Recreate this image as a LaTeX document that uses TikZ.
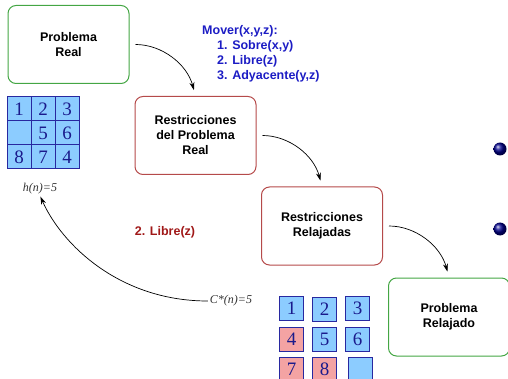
\documentclass[tikz,border=0pt]{standalone}
\usepackage{fontspec}
\setmainfont{Liberation Serif}
\setsansfont{Liberation Sans}
\usetikzlibrary{arrows.meta,shadings}
\definecolor{boxgreen}{HTML}{44A644}
\definecolor{boxred}{HTML}{B54A4A}
\definecolor{textblue}{HTML}{1C1CC4}
\definecolor{textred}{HTML}{A01818}
\definecolor{tileblue}{HTML}{8CCCFF}
\definecolor{tilered}{HTML}{F4A3A3}
\definecolor{tileline}{HTML}{2828A0}
\definecolor{digit}{HTML}{1A1A8C}
\begin{document}
\begin{tikzpicture}[x=1pt,y=-1pt,
  box/.style={draw, rounded corners=8pt, line width=1pt, minimum width=121pt,
    minimum height=78pt, align=center,
    font=\sffamily\bfseries\fontsize{12.5}{15}\selectfont},
  arr/.style={-{Stealth[length=8pt,width=5pt]}, line width=0.7pt,
    shorten <=6pt, shorten >=6pt},
  tile/.style={draw=tileline, line width=1pt, fill=tileblue, minimum size=24pt,
    inner sep=0pt, text=digit, font=\fontsize{19}{19}\selectfont},
  redtile/.style={tile, fill=tilered},
  ball/.style={circle, minimum size=13pt, inner sep=0pt, ball color=blue!55!black},
  val/.style={font=\itshape\fontsize{12}{14}\selectfont, text=black!80, inner sep=1pt}]
  \useasboundingbox (0,0) rectangle (508,379);

  \node[box, draw=boxgreen] (real) at (68.5,44.5) {Problema\\Real};
  \node[box, draw=boxred] (restr) at (195.5,135.5) {Restricciones\\del Problema\\Real};
  \node[box, draw=boxred] (relaj) at (322,226) {Restricciones\\Relajadas};
  \node[box, draw=boxgreen] (prelaj) at (449,317) {Problema\\Relajado};

  \draw[arr] (real.east) to[out=0, in=105] (restr.north);
  \draw[arr] (restr.east) to[out=0, in=105] (relaj.north);
  \draw[arr] (relaj.east) to[out=0, in=105] (prelaj.north);

  \node[anchor=north west, align=left, inner sep=0pt, text=textblue,
    font=\sffamily\bfseries\fontsize{12.5}{15}\selectfont] (mover) at (202,25)
    {Mover(x,y,z):\\
     \hspace*{15pt}1. Sobre(x,y)\\
     \hspace*{15pt}2. Libre(z)\\
     \hspace*{15pt}3. Adyacente(y,z)};

  \node[text=textred, font=\sffamily\bfseries\fontsize{12.5}{15}\selectfont] (libre) at (165,232) {2. Libre(z)};

  \node[ball] (b1) at (500,149) {};
  \node[ball] (b2) at (500,229) {};

  % estado inicial
  \node[tile] (s1) at (19,109) {1};
  \node[tile] (s2) at (43,109) {2};
  \node[tile] (s3) at (67,109) {3};
  \node[tile] (s4) at (19,133) {};
  \node[tile] (s5) at (43,133) {5};
  \node[tile] (s6) at (67,133) {6};
  \node[tile] (s7) at (19,157) {8};
  \node[tile] (s8) at (43,157) {7};
  \node[tile] (s9) at (67,157) {4};

  % piezas relajadas
  \node[tile] (t1) at (291.5,308) {1};
  \node[tile] (t2) at (324.5,309) {2};
  \node[tile] (t3) at (357.5,308) {3};
  \node[redtile] (t4) at (291.5,339) {4};
  \node[tile] (t5) at (324.5,339) {5};
  \node[tile] (t6) at (357.5,339) {6};
  \node[redtile] (t7) at (291.5,369) {7};
  \node[redtile] (t8) at (324.5,369) {8};
  \node[tile] (t9) at (360,369) {};

  \node[val] (hn) at (40,189) {h(n)=5};
  \node[val] (cn) at (231,301) {C*(n)=5};
  \draw[arr, shorten <=1pt, shorten >=1pt] (cn.west)
    .. controls (120,301) and (62,245) .. (hn.south);
\end{tikzpicture}
\end{document}
